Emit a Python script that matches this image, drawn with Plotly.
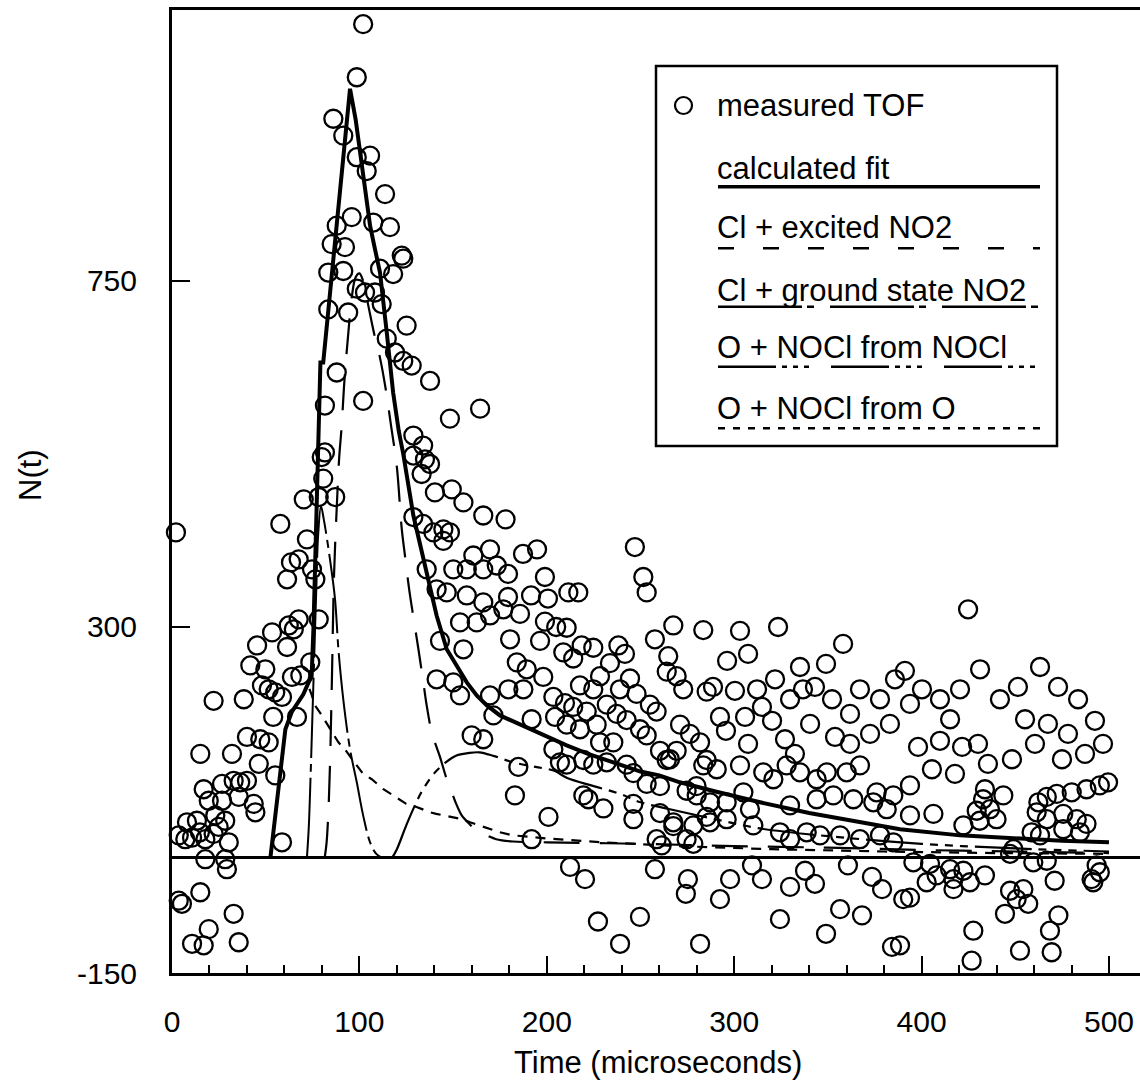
import plotly.graph_objects as go

# ---- measured time-of-flight points (time in microseconds, counts) ----
tof_time = [
    2.1, 3.6, 7.1, 10.7, 8, 13.3, 14.9, 17.8, 22.2, 23.1, 24.9, 28.4, 30.3, 15.1, 16.9, 19.6, 22.2, 26.7, 26.7,
    32, 32.9, 35.6, 36.4, 38.3, 40, 40, 41.8, 43.6, 44.5, 45.4, 46.3, 47.1, 48, 49.8, 51.6, 51.6, 53.4, 54,
    55.1, 55.1, 57.8, 58.7, 58.7, 61.4, 61.4, 62.3, 63.5, 64, 65, 66.7, 67.6, 67.6, 68.5, 70.3, 72, 73.8,
    74.7, 76.5, 78.3, 78.3, 79.9, 80.7, 87.1,
    17.8, 28.4, 29.3, 15.1, 3.6, 5.3, 32.9, 19.6, 10.7, 16.9, 35.6,
    102, 98.6, 86.1, 91.4, 98.6, 105.7, 103.9, 113.7, 95.9, 87.9, 107.4, 116.3, 85.2, 92.3, 122.6, 123.4,
    83.4, 91.4, 111, 118, 98.6, 103, 108.3, 83.4, 94, 111.9, 125.2, 114.6, 119, 123.4, 127.9, 137.7, 87.9,
    102, 81.6, 148.3, 164.4, 81.6, 128.8, 134,
    128.8, 135, 137.7, 133.2, 140.3, 149.3, 155.5, 166.1, 128.8, 134, 139.5, 144.8, 148.3, 144.8, 160.8,
    169.7, 166.1, 173.3, 135.9, 150.1, 157.3, 146.6, 141.2, 157.3, 166.1, 169.7, 176.8, 153.7, 162.6, 155.5,
    143, 141.2, 150.1, 153.7, 169.7, 171.5, 159.9, 166.1,
    179.5, 187.5, 184, 189.3, 198.1, 203.5, 191.9, 204.4, 203.5, 207, 184.8, 183, 200.9, 191.9,
    178, 194.8, 187.3, 199, 179.3, 179.3, 191.6, 200.6, 185.7, 199, 205, 196.4, 180.4,
    247, 251.5, 253.3, 211.5, 216.8, 267.5, 257.7, 283.5, 210.6, 218.6, 224.8, 238.2, 241.7, 264.8, 208.8,
    214.1, 233.7, 228.4, 244.4, 239, 247.9, 264, 269.3, 272.8, 217.7, 224.8, 285.3, 255, 258.6, 209.7, 214.1,
    221.3, 232, 237.3, 242.6, 249.7, 253.3, 210.6, 217.7, 226.6, 228.4, 235.5, 271.1, 276.4, 260.4, 264,
    269.3, 281.8, 285.3, 219.5, 224.8, 232, 242.6, 246.2, 210.6, 260.4, 253.3, 274.6, 279.9, 219.5, 222.2,
    230.2, 246.2, 246.2, 260.4, 267.5, 285.3, 274.6, 278.2, 258.6, 261.3,
    303.1, 323.4, 296.2, 288.7, 300.4, 312.2, 314.8, 305.8, 295.6, 307.4, 320.2, 329.8, 336.7, 343.1, 352.2,
    358.1, 335.1, 349, 367.1, 377.8, 385.8, 372.5, 361.8, 353.8, 332.4, 327.1, 340.5, 361.8, 321.8, 307.4,
    292.4, 383.1,
    265.7, 283.5, 290.7, 303.1, 315.5, 320.9, 328, 335.1, 344, 349.4, 360, 367.1, 376, 384.9,
    280, 287.1, 296, 304.9, 308.4, 329.8, 344, 352.9, 363.6, 374.2, 381.4,
    267.5, 278.2, 287.1, 296, 310.2, 324.4, 329.8, 338.7, 345.8, 356.5, 367.1, 377.8, 384.9,
    424.8, 391.1, 400.2, 409.8, 420.5, 431.2, 441.8, 451.4, 463.2, 472.8, 483.5, 492.5, 496.8, 487.2, 474.9,
    460.5, 448.2, 435.4, 421.6, 409.8, 398.1, 405.5, 417.8, 430.1, 467.4, 455.2, 415.2, 478.1, 393.8,
    227.3, 249.7, 239.1, 275.3, 274.2, 281.8, 309.5, 314.8, 329.8, 324.4, 337.8, 343.1, 349, 356.5, 368.2,
    373.5, 378.9, 384.2, 360.7, 297.8, 212.4, 220.4, 257.7, 292.4,
    393.8, 433.8, 443.6, 432.8, 429.4, 436.5, 440, 431, 406.3, 393.8, 422.3, 462.3, 466.8, 472.1, 480.1, 488,
    495.1, 499.5, 461.4, 466.8, 475.6, 482.8, 488, 458.7, 463.2, 475.6, 484.5, 449, 447.2, 459.6, 466.8,
    493.4, 495.1, 491.6, 395.6, 404.5, 408, 402.7, 415.2, 417, 422.3, 417, 425.8, 433.8, 393.8, 390.2,
    447.2, 450.7, 456.9, 454.3, 444.5, 471, 490.7, 473, 468.5, 427.6, 452.5, 469.4, 426.7, 388.5,
]
tof_counts = [
    423, 29, 24, 26, 46, 48, 33, 24, 31, 55, 40, 48, 20, 135, 89, 74, 204, 96, 74,
    135, 100, 79, 98, 206, 157, 100, 250, 70, 59, 276, 122, 154, 224, 245, 219, 150, 293, 183,
    215, 107, 434, 209, 20, 362, 274, 302, 384, 235, 297, 183, 388, 310, 237, 466, 414, 254,
    375, 362, 469, 310, 521, 493, 469,
    -2, -2, -15, -45, -56, -60, -73, -93, -112, -114, -110,
    1084, 1015, 961, 939, 911, 913, 893, 863, 833, 822, 826, 820, 798, 794, 783, 779,
    761, 763, 766, 759, 740, 735, 735, 713, 709, 720, 692, 675, 657, 646, 640, 620, 631,
    594, 588, 571, 584, 527, 549, 536,
    523, 518, 512, 499, 475, 479, 462, 445, 443, 434, 423, 427, 423, 412, 393,
    401, 375, 380, 375, 375, 375, 345, 349, 341, 332, 315, 323, 306, 306, 271,
    282, 232, 228, 211, 211, 185, 159, 154,
    219, 219, 254, 245, 235, 209, 180, 183, 141, 124, 118, 81, 53, 24,
    440, 401, 395, 365, 369, 339, 341, 337, 317, 307, 300, 282, 284,
    404, 365, 345, 345, 345, 302, 284, 296, 299, 276, 273, 276, 265, 262, 267,
    259, 253, 236, 233, 219, 213, 242, 236, 219, 224, 219, 216, 199, 190, 201, 196,
    190, 199, 187, 179, 167, 159, 173, 167, 173, 150, 150, 173, 161, 139, 127,
    139, 150, 127, 127, 121, 124, 121, 110, 121, 93, 96, 87, 93, 81, 76,
    64, 70, 50, 58, 41, 53, 24, 18, 24, 16,
    295, 300, 256, 222, 217, 219, 196, 183, 165, 148, 178, 206, 219, 222, 206,
    278, 248, 252, 219, 206, 232, 161, 148, 157, 135, 154, 174, 187, 232, 265,
    183, 174,
    128, 120, 115, 120, 111, 102, 120, 111, 102, 111, 111, 120, 85, 81,
    81, 72, 72, 85, 63, 68, 76, 81, 76, 72, 63,
    46, 42, 46, 50, 42, 33, 24, 33, 29, 29, 24, 29, 20,
    323, 243, 219, 206, 219, 245, 206, 222, 248, 222, 206, 178, 148, 135, 128,
    148, 128, 122, 144, 152, 144, 115, 109, 148, 174, 180, 180, 161, 200,
    -83, -77, -112, -28, -47, -112, -10, -28, -38, -80, -17, -34, -99, -67, -75,
    -25, -41, -116, -10, -28, -12, -28, -15, -54,
    94, 89, 81, 76, 61, 63, 50, 48, 57, 55, 42, 72, 79, 83, 85, 89,
    94, 98, 59, 50, 57, 50, 44, 33, 29, 37, 33, 11, 5, -6, -4,
    -10, -19, -32, -6, -8, -23, -32, -15, -28, -17, -41, -32, -23, -52, -54,
    -43, -54, -60, -41, -73, -30, -28, -75, -95, -95, -121, -123, -134, -114,
]

# ---- calculated fit ----
fit_time = [52.5, 56.5, 60.5, 64, 67.6, 70, 72.9, 74.5, 75.5, 76.5, 77.5, 78.5, 79.2, 80.7, 84, 88, 92, 95,
            98, 101, 103, 105.7, 108, 111, 114.6, 118, 121, 123.4, 128.8, 134, 141.2, 146.6, 152, 157.3,
            162.6, 168, 175, 183, 191, 200, 210.6, 222, 235.5, 250, 260, 271, 290, 313.8, 340, 367, 388.5,
            420.5, 450, 475, 500]
fit_counts = [0, 85, 167, 190, 202, 212, 228, 235, 300, 400, 500, 600, 644, 644, 725, 825, 925, 1000,
              960, 905, 870, 822, 795, 761, 683, 605, 555, 525, 445, 388, 315, 271, 250, 228,
              211, 198, 185, 176, 167, 158, 146, 135, 124, 112, 107, 98, 86, 72, 58, 46, 37,
              29, 25, 22, 20]

# ---- Cl + excited NO2 ----
cl_exc_time = [81.5, 82.5, 83.5, 84.3, 85.3, 86.5, 88, 89.2, 90.5, 92, 94, 96, 98, 100, 102, 105, 108, 111,
               114, 117, 120, 122.5, 124.3, 126.5, 128.8, 131.5, 134, 135.9, 138.6, 141, 143, 146.6, 149.3,
               152, 154.6, 158.6, 162.6, 168, 173, 182, 200, 250, 300, 350, 400, 450, 500]
cl_exc_counts = [0, 20, 63, 120, 228, 370, 460, 520, 560, 620, 680, 730, 755, 760, 750, 715, 680, 650,
                 610, 560, 508, 430, 393, 350, 313, 271, 230, 198, 163, 145, 131, 102, 85,
                 68, 55, 44, 35, 29, 24, 21, 20, 18, 15, 13, 10, 8, 6]

# ---- Cl + ground state NO2 ----
cl_gnd_time = [72, 73, 74, 75, 76, 77, 78, 79.5, 81, 84.3, 87, 88.8, 91.4, 95, 98.6, 102, 105.7, 109, 112]
cl_gnd_counts = [0, 40, 110, 190, 270, 350, 420, 457, 440, 388, 336, 271, 206, 141, 98, 55, 20, 5, 0]

# ---- O + NOCl from NOCl ----
o_nocl_time = [117.5, 120, 125, 130, 134, 140, 146.6, 151.8, 158, 164, 172, 182, 194, 204, 210.6, 225, 239,
               250, 265.7, 290, 313.8, 350, 400, 450, 500]
o_nocl_counts = [0, 11, 42, 70, 89, 110, 125, 133, 136, 137, 132, 124, 118, 113, 104, 93, 83,
                 72, 63, 50, 38, 28, 18, 12, 8]

# ---- O + NOCl from O ----
o_from_o_time = [52.5, 56.5, 60.5, 64, 67.6, 70, 72.9, 74.5, 76.3, 79.4, 82.4, 85.5, 88.8, 92.3, 95.5, 98.6,
                 102, 106.6, 112.8, 118, 125, 130.5, 137.7, 141, 148, 155, 159, 166, 175, 182, 200, 230,
                 270, 320, 380, 440, 500]
o_from_o_counts = [0, 85, 167, 190, 202, 212, 222, 212, 198, 187, 176, 163, 150, 141, 130, 120,
                   109, 102, 89, 81, 70, 66, 59, 57, 53, 50, 46, 40, 33, 29, 25, 20,
                   15, 11, 8, 6, 5]

x_ticks = [0, 100, 200, 300, 400, 500]
y_ticks = [-150, 300, 750]
y_tick_text = ["-150", "300", "750"]

legend_labels = ["measured TOF", "calculated fit", "Cl + excited NO2", "Cl + ground state NO2",
                 "O + NOCl from NOCl", "O + NOCl from O"]

FONT = "Liberation Sans, Arial, Helvetica, sans-serif"
INK = "black"

# dash patterns
DASH_EXC = "36px,20px"
DASH_GND = "80px,6px,8px,6px"
DASH_ONOCL = "57px,7px,8px,7px,8px,7px,8px,7px"
DASH_FROM_O = "10px,8px"

fig = go.Figure()

fig.add_trace(go.Scatter(
    x=tof_time, y=tof_counts, mode="markers", cliponaxis=False,
    marker=dict(symbol="circle-open", size=18, color=INK, line=dict(width=2.3, color=INK)),
    showlegend=False, hoverinfo="x+y"))

fig.add_trace(go.Scatter(x=o_from_o_time, y=o_from_o_counts, mode="lines",
                         line=dict(color=INK, width=2.2, dash=DASH_FROM_O), showlegend=False))
fig.add_trace(go.Scatter(x=o_nocl_time, y=o_nocl_counts, mode="lines",
                         line=dict(color=INK, width=2.2, dash=DASH_ONOCL, shape="spline"), showlegend=False))
fig.add_trace(go.Scatter(x=cl_gnd_time, y=cl_gnd_counts, mode="lines",
                         line=dict(color=INK, width=2.0, dash=DASH_GND, shape="spline"), showlegend=False))
fig.add_trace(go.Scatter(x=cl_exc_time, y=cl_exc_counts, mode="lines",
                         line=dict(color=INK, width=2.2, dash=DASH_EXC, shape="spline"), showlegend=False))
fig.add_trace(go.Scatter(x=fit_time, y=fit_counts, mode="lines",
                         line=dict(color=INK, width=4), showlegend=False))

# ---- plot-area geometry (pixels) ----
W, H = 1140, 1083
L, R, T, B = 172, 0, 10, 110
plot_w = W - L - R
plot_h = H - T - B


def px(xp):
    return (xp - L) / plot_w


def py(yp):
    return (H - B - yp) / plot_h


# ---- legend box drawn inside the plot ----
shapes = [
    dict(type="rect", xref="paper", yref="paper", x0=px(656), x1=px(1057), y0=py(446), y1=py(66),
         line=dict(color=INK, width=2.5), fillcolor="white", layer="above"),
    dict(type="circle", xref="paper", yref="paper", x0=px(675), x1=px(692), y0=py(114), y1=py(97),
         line=dict(color=INK, width=2.2), layer="above"),
]
sample_rows = [
    (186.7, dict(color=INK, width=3.5)),
    (248.3, dict(color=INK, width=2.5, dash="16px,29px")),
    (306.7, dict(color=INK, width=2.5, dash="84px,5px,7px,16px")),
    (366.7, dict(color=INK, width=2.5, dash="58px,6px,5px,6px,5px,6px,5px,22px")),
    (428.3, dict(color=INK, width=2.5, dash="7px,8px")),
]
for yp, ln in sample_rows:
    shapes.append(dict(type="line", xref="paper", yref="paper", x0=px(718), x1=px(1040),
                       y0=py(yp), y1=py(yp), line=ln, layer="above"))

text_rows = [105, 168, 228, 290, 348, 408]
annotations = []
for label, yp in zip(legend_labels, text_rows):
    annotations.append(dict(text=label, xref="paper", yref="paper", x=px(715), y=py(yp),
                            xanchor="left", yanchor="middle", showarrow=False,
                            font=dict(family=FONT, size=31, color=INK)))

annotations.append(dict(text="Time (microseconds)", xref="paper", yref="paper", x=px(658), y=py(1062),
                        xanchor="center", yanchor="middle", showarrow=False,
                        font=dict(family=FONT, size=31, color=INK)))
annotations.append(dict(text="N(t)", xref="paper", yref="paper", x=px(30), y=py(475), textangle=-90,
                        xanchor="center", yanchor="middle", showarrow=False,
                        font=dict(family=FONT, size=31, color=INK)))

y_top = -150 + plot_h / 0.7689
x_right = plot_w / 1.874

fig.update_layout(
    width=W, height=H, margin=dict(l=L, r=R, t=T, b=B, pad=0),
    paper_bgcolor="white", plot_bgcolor="white",
    shapes=shapes, annotations=annotations, showlegend=False,
    font=dict(family=FONT, size=29, color=INK),
    xaxis=dict(range=[0, x_right], tickvals=x_ticks, ticks="inside", ticklen=17, tickwidth=2,
               tickcolor=INK, showline=True, linewidth=3, linecolor=INK, mirror=True,
               showgrid=False, zeroline=False, ticklabelstandoff=20,
               tickfont=dict(family=FONT, size=30, color=INK),
               minor=dict(dtick=20, ticks="inside", ticklen=8, tickwidth=1.5, tickcolor=INK, showgrid=False)),
    yaxis=dict(range=[-150, y_top], tickvals=y_ticks, ticktext=y_tick_text, ticks="inside", ticklen=18,
               tickwidth=2, tickcolor=INK, showline=True, linewidth=3, linecolor=INK, mirror=False,
               showgrid=False, zeroline=True, zerolinecolor=INK, zerolinewidth=2.5,
               ticklabelstandoff=26, tickfont=dict(family=FONT, size=30, color=INK)),
)

fig.write_html("out.html")
